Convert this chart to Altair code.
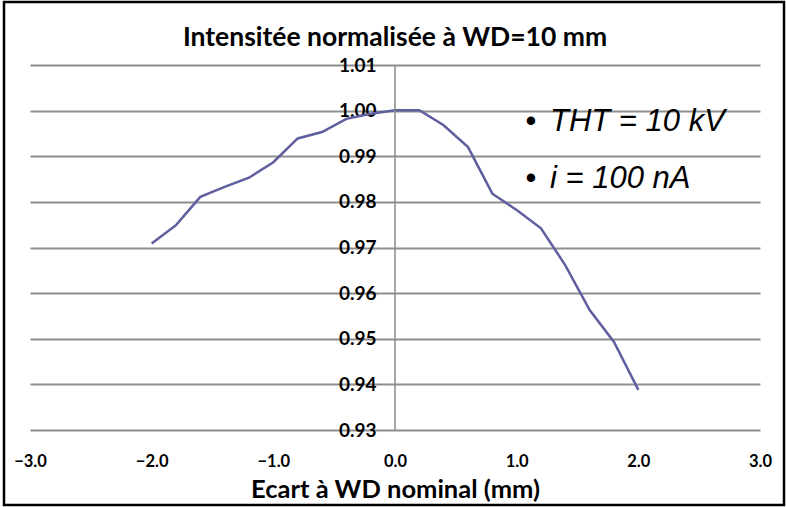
import altair as alt
import pandas as pd

# Data
ecart_mm = [-2.0, -1.8, -1.6, -1.4, -1.2, -1.0, -0.8, -0.6, -0.4, -0.2, 0.0,
            0.2, 0.4, 0.6, 0.8, 1.0, 1.2, 1.4, 1.6, 1.8, 2.0]
intensite = [0.9709, 0.9749, 0.9811, 0.9833, 0.9853, 0.9887, 0.9939, 0.9953,
             0.9982, 0.9993, 1.0001, 1.0001, 0.9968, 0.9920, 0.9818, 0.9782,
             0.9742, 0.9661, 0.9563, 0.9493, 0.9388]
y_ticks = [0.93, 0.94, 0.95, 0.96, 0.97, 0.98, 0.99, 1.00, 1.01]
x_ticks = [-3.0, -2.0, -1.0, 0.0, 1.0, 2.0, 3.0]
notes = ["THT = 10 kV", "i = 100 nA"]
chart_title = "Intensitée normalisée à WD=10 mm"
x_title = "Ecart à WD nominal (mm)"

df = pd.DataFrame({"x": ecart_mm, "y": intensite})

W, H = 730, 365
PL, PT, PR, PB = 30, 65, 26, 77

FONT = "Lato"

xscale = alt.Scale(domain=[-3, 3], nice=False, zero=False)
yscale = alt.Scale(domain=[0.93, 1.01], nice=False, zero=False)

line = alt.Chart(df).mark_line(color="#5f5f9f", strokeWidth=2.5).encode(
    x=alt.X("x:Q", scale=xscale,
            axis=alt.Axis(values=x_ticks, format=".1f", grid=False, domain=False,
                          ticks=False, labelPadding=36, labelBaseline="alphabetic",
                          labelFlush=False,
                          labelFont=FONT, labelFontWeight="bold", labelFontSize=16.5,
                          labelColor="#000000",
                          title=x_title, titleFont=FONT,
                          titleFontSize=25.5, titleFontWeight="bold", titleColor="#000000",
                          titleBaseline="alphabetic", titleY=67)),
    y=alt.Y("y:Q", scale=yscale,
            axis=alt.Axis(values=y_ticks, format=".2f", grid=True, gridColor="#8e8e8e",
                          gridWidth=2, domain=False, ticks=False,
                          labelPadding=-346, labelAlign="right", labelFlush=False,
                          labelFont=FONT, labelFontWeight="bold", labelFontSize=19,
                          labelColor="#000000", title=None)),
)

vaxis = alt.Chart(pd.DataFrame({"x": [0.0]})).mark_rule(color="#8a8a8a", strokeWidth=1.5).encode(
    x=alt.X("x:Q", scale=xscale)
)

note_df = pd.DataFrame({"t": notes, "b": ["\u2022", "\u2022"], "row": [0, 1]})
row_scale = alt.Scale(domain=[0, 1], range=[131 - PT, 188 - PT])
note_text = alt.Chart(note_df).mark_text(
    font="Liberation Sans", fontStyle="italic", fontSize=31, align="left",
    baseline="alphabetic", color="#000000"
).encode(
    text="t:N",
    x=alt.value(550 - PL),
    y=alt.Y("row:Q", scale=row_scale, axis=None),
)
bullet_text = alt.Chart(note_df).mark_text(
    font="Liberation Sans", fontSize=31, align="center",
    baseline="alphabetic", color="#000000"
).encode(
    text="b:N",
    x=alt.value(531 - PL),
    y=alt.Y("row:Q", scale=row_scale, axis=None),
)

title_text = alt.Chart(pd.DataFrame({"t": [chart_title]})).mark_text(
    font=FONT, fontSize=26.5, fontWeight="bold", align="center",
    baseline="alphabetic", color="#000000"
).encode(
    text="t:N",
    x=alt.value(395 - PL),
    y=alt.value(46 - PT),
)

frame = alt.Chart(pd.DataFrame({"a": [0]})).mark_rect(
    fill=None, stroke="#000000", strokeWidth=2.5
).encode(
    x=alt.value(4 - PL), x2=alt.value(784 - PL),
    y=alt.value(2 - PT), y2=alt.value(505 - PT),
)

chart = alt.layer(line, vaxis, note_text, bullet_text, title_text, frame).resolve_scale(
    y="independent"
).properties(
    width=W, height=H,
    autosize=alt.AutoSizeParams(type="none"),
    padding={"left": PL, "top": PT, "right": PR, "bottom": PB},
    background="#ffffff",
).configure_view(stroke=None)

chart.save("out.html", embed_options={"renderer": "svg", "actions": False})
